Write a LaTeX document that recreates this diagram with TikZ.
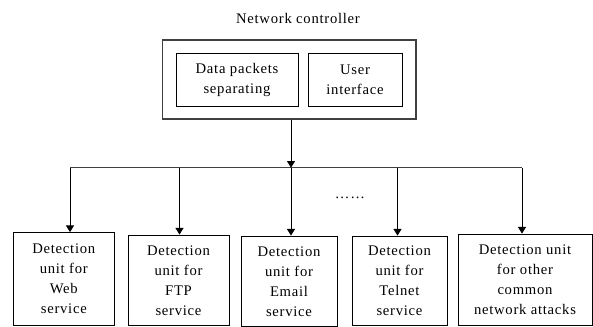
\documentclass[tikz,border=0pt]{standalone}
\usepackage{fontspec}
\setmainfont{Liberation Serif}[LetterSpace=5]
\usetikzlibrary{arrows.meta}

\begin{document}
\begin{tikzpicture}[x=0.75pt,y=-0.75pt,
  font=\fontsize{11}{15}\selectfont,
  unit/.style={draw,line width=0.6pt,align=center,inner sep=0pt},
  frame/.style={draw=black!75,line width=1.1pt},
  down/.style={-{Triangle[width=6pt,length=5pt]},line width=0.7pt}]
 \useasboundingbox (0,0) rectangle (593,327);

 \node (title) at (298,18) {Network controller};
 \node [frame, minimum width=190pt, minimum height=59.25pt] (ctrl) at (289.4,79.5) {};
 \node [unit, minimum width=91.5pt, minimum height=40pt] (sep) at (237,80) {Data packets\\separating};
 \node [unit, minimum width=70.5pt, minimum height=40pt] (ui)  at (355,80) {User\\interface};

 \node [unit, minimum width=75.75pt, minimum height=69.75pt] (web)    at (63.8,279)   {Detection\\unit for\\Web\\service};
 \node [unit, minimum width=75.75pt, minimum height=67.9pt]  (ftp)    at (178.5,280.25) {Detection\\unit for\\FTP\\service};
 \node [unit, minimum width=72pt,    minimum height=67.9pt]  (email)  at (289,281.25) {Detection\\unit for\\Email\\service};
 \node [unit, minimum width=71.25pt, minimum height=67.1pt]  (telnet) at (399.5,280.75) {Detection\\unit for\\Telnet\\service};
 \node [unit, minimum width=100.5pt, minimum height=68.25pt] (other)  at (525,279.5) {Detection unit\\for other\\common\\network attacks};

 \node (dots) at (350,198) {……};

 \coordinate (b1)  at (70,167.7);
 \coordinate (b2)  at (179.5,167.7);
 \coordinate (hub) at (291,167.7);
 \coordinate (b4)  at (397.5,167.7);
 \coordinate (b5)  at (522,167.7);

 \draw [frame] (b1) -- (b5);
 \draw [down] (ctrl.south -| hub) -- (hub);

 \draw [down] (b1)  -- (b1 |- web.north);
 \draw [down] (b2)  -- (b2 |- ftp.north);
 \draw [down] (hub) -- (hub |- email.north);
 \draw [down] (b4)  -- (b4 |- telnet.north);
 \draw [down] (b5)  -- (b5 |- other.north);

\end{tikzpicture}
\end{document}
